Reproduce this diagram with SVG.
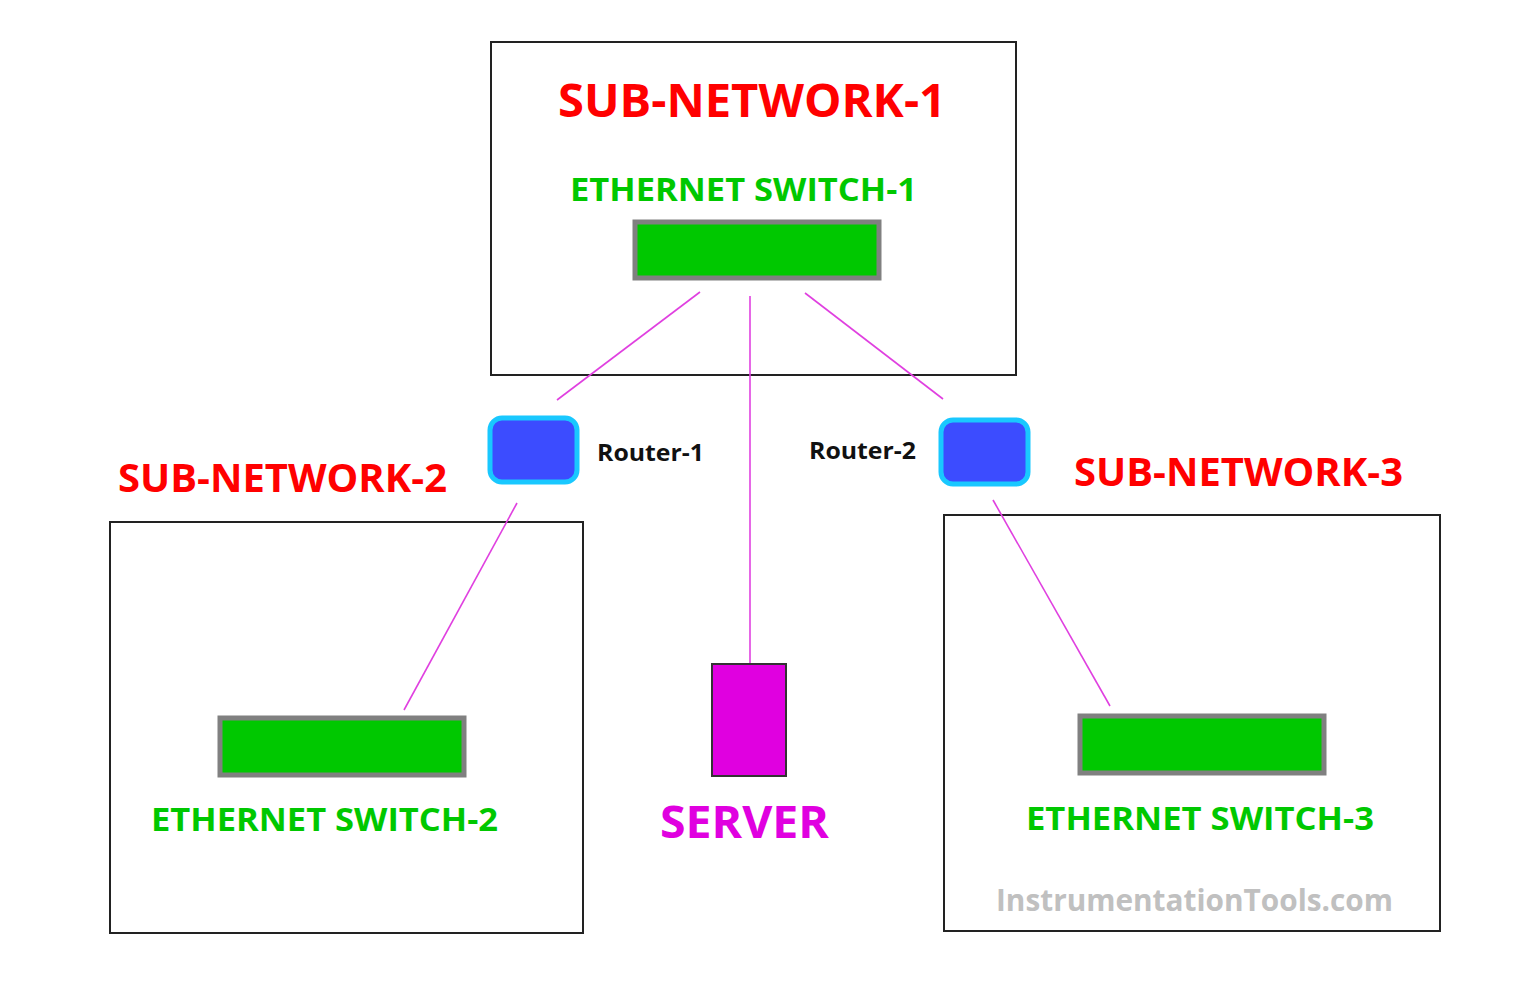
<svg xmlns="http://www.w3.org/2000/svg" width="1536" height="988" viewBox="0 0 1536 988">
<style>
.box{fill:none;stroke:#222;stroke-width:2}
.sw{fill:#00c800;stroke:#808080;stroke-width:5}
.rt{fill:#3c4cff;stroke:#19c8ff;stroke-width:5}
.ln{stroke:#e040e0;stroke-width:1.6;fill:none}
text{font-family:"Open Sans","Noto Sans",sans-serif;font-weight:bold}
.red{fill:#ff0000}
.grn{fill:#00c800;font-size:32px}
.blk{fill:#111;font-size:23px}
</style>
<rect width="1536" height="988" fill="#fff"/>
<g id="subnet1"><rect class="box" x="491" y="42" width="525" height="333"/>
<text class="red" x="558" y="117" font-size="46" textLength="388" lengthAdjust="spacingAndGlyphs">SUB-NETWORK-1</text></g>
<g id="subnet2"><rect class="box" x="110" y="522" width="473" height="411"/>
<text class="red" x="118" y="492" font-size="39" textLength="329" lengthAdjust="spacingAndGlyphs">SUB-NETWORK-2</text></g>
<g id="subnet3"><rect class="box" x="944" y="515" width="496" height="416"/>
<text class="red" x="1074" y="486" font-size="39" textLength="329" lengthAdjust="spacingAndGlyphs">SUB-NETWORK-3</text>
<text x="996" y="911" font-size="30" fill="#c0c0c0" textLength="397" lengthAdjust="spacingAndGlyphs">InstrumentationTools.com</text></g>
<g id="connectors">
<line class="ln" x1="700" y1="292" x2="557" y2="400"/>
<line class="ln" x1="750" y1="296" x2="750" y2="665"/>
<line class="ln" x1="805" y1="293" x2="943" y2="399"/>
<line class="ln" x1="517" y1="503" x2="404" y2="710"/>
<line class="ln" x1="993" y1="500" x2="1110" y2="706"/>
</g>
<g id="switch1"><rect class="sw" x="635" y="222" width="244" height="56"/>
<text class="grn" x="570" y="201" textLength="347" lengthAdjust="spacingAndGlyphs">ETHERNET SWITCH-1</text></g>
<g id="switch2"><rect class="sw" x="220" y="718" width="244" height="57"/>
<text class="grn" x="151" y="831" textLength="347" lengthAdjust="spacingAndGlyphs">ETHERNET SWITCH-2</text></g>
<g id="switch3"><rect class="sw" x="1080" y="716" width="244" height="57"/>
<text class="grn" x="1026" y="830" textLength="348" lengthAdjust="spacingAndGlyphs">ETHERNET SWITCH-3</text></g>
<g id="router1"><rect class="rt" x="490" y="418" width="87" height="64" rx="12"/>
<text class="blk" x="597" y="461" textLength="107" lengthAdjust="spacingAndGlyphs">Router-1</text></g>
<g id="router2"><rect class="rt" x="941" y="420" width="87" height="64" rx="12"/>
<text class="blk" x="809" y="459" textLength="107" lengthAdjust="spacingAndGlyphs">Router-2</text></g>
<g id="server"><rect x="712" y="664" width="74" height="112" fill="#e000e0" stroke="#333" stroke-width="2"/>
<text x="660" y="838" font-size="44" fill="#e000e0" textLength="169" lengthAdjust="spacingAndGlyphs">SERVER</text></g>
</svg>
